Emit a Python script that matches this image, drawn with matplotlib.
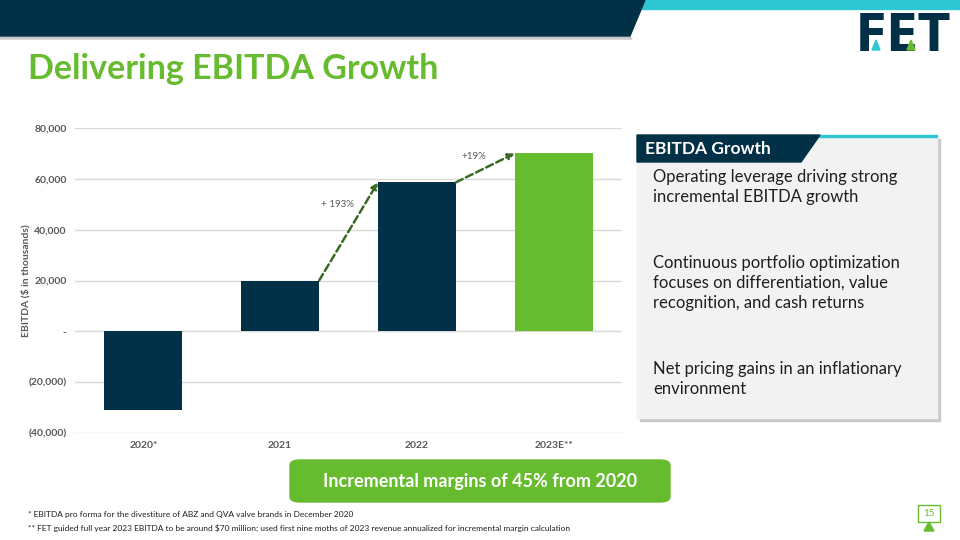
"""EBITDA growth slide: bar chart with growth arrows and a side panel."""

import matplotlib

matplotlib.use("Agg")
import matplotlib.pyplot as plt
from matplotlib.patches import FancyBboxPatch, Polygon, Rectangle
from matplotlib.ticker import FuncFormatter


years = ["2020*", "2021", "2022", "2023E**"]
ebitda = [-31000, 20000, 58600, 70000]
growth_labels = ["+ 193%", "+19%"]
y_ticks = [-40000, -20000, 0, 20000, 40000, 60000, 80000]
bullets = [
    "Operating leverage driving strong\nincremental EBITDA growth",
    "Continuous portfolio optimization\nfocuses on differentiation, value\nrecognition, and cash returns",
    "Net pricing gains in an inflationary\nenvironment",
]
footnotes = [
    "* EBITDA pro forma for the divestiture of ABZ and QVA valve brands in December 2020",
    "** FET guided full year 2023 EBITDA to be around $70 million; used first nine moths of 2023 "
    "revenue annualized for incremental margin calculation",
]

NAVY = "#023047"
GREEN = "#67bb2e"
CYAN = "#2ec8d4"
ARROW = "#3a6b22"
TICK = "#595959"

plt.rcParams["font.family"] = ["Lato", "DejaVu Sans"]


def money(value, _pos):
    if value == 0:
        return "-"
    if value < 0:
        return f"({abs(value):,.0f})"
    return f"{value:,.0f}"


fig = plt.figure(figsize=(9.6, 5.4), dpi=100)
W, H = 960, 540


def fx(px):
    return px / W


def fy(py):
    return 1 - py / H


# header band
fig.patches.append(Polygon([(fx(640), fy(0)), (fx(960), fy(0)), (fx(960), fy(9)), (fx(637), fy(9))],
                           closed=True, transform=fig.transFigure, color=CYAN, zorder=1))
fig.patches.append(Polygon([(0, fy(37)), (fx(630), fy(37)), (fx(632), fy(39)), (0, fy(39))],
                           closed=True, transform=fig.transFigure, color="#c8c8c8", zorder=1))
fig.patches.append(Polygon([(0, 1), (fx(645), 1), (fx(630), fy(36)), (0, fy(36))],
                           closed=True, transform=fig.transFigure, color=NAVY, zorder=2))

# logo
fig.text(fx(903), fy(37), "FET", fontsize=37, fontweight="black", color=NAVY,
         ha="center", va="center", family=["DejaVu Sans"], stretch="condensed")
fig.patches.append(Polygon([(fx(872), fy(50)), (fx(880), fy(50)), (fx(876), fy(40))],
                           closed=True, transform=fig.transFigure, color=CYAN, zorder=5))
fig.patches.append(Polygon([(fx(907), fy(50)), (fx(915), fy(50)), (fx(911), fy(40))],
                           closed=True, transform=fig.transFigure, color=GREEN, zorder=5))

fig.text(fx(28), fy(69), "Delivering EBITDA Growth", fontsize=24.5, fontweight="bold",
         color=GREEN, ha="left", va="center")

# chart
ax = fig.add_axes([fx(75), fy(433), fx(622) - fx(75), fy(128) - fy(433)])
x = list(range(len(years)))
colors = [NAVY, NAVY, NAVY, GREEN]
bar_w = 0.57
ax.bar(x, ebitda, width=bar_w, color=colors, zorder=3)
ax.set_xlim(-0.5, len(years) - 0.5)
ax.set_ylim(-40000, 80000)
ax.set_yticks(y_ticks)
ax.yaxis.set_major_formatter(FuncFormatter(money))
ax.set_xticks(x)
ax.set_xticklabels(years)
ax.grid(axis="y", color="#d9d9d9", linewidth=1, zorder=0)
for s in ax.spines.values():
    s.set_visible(False)
ax.tick_params(length=0, labelsize=7.5, labelcolor=TICK, pad=6)
for lab in ax.get_xticklabels() + ax.get_yticklabels():
    lab.set_fontweight("bold")
ax.set_ylabel("EBITDA ($ in thousands)", fontsize=7.5, color=TICK, fontweight="bold")
ax.yaxis.set_label_coords(-0.082, 0.5)

label_pos = [(1.42, 50000), (2.42, 68700)]
for i, text in enumerate(growth_labels):
    start = (x[i + 1] + bar_w / 2, ebitda[i + 1])
    end = (x[i + 2] - bar_w / 2, ebitda[i + 2])
    ax.annotate("", xy=end, xytext=start,
                arrowprops=dict(arrowstyle="-|>", color=ARROW, lw=1.8, linestyle=(0, (3, 1.5)),
                                mutation_scale=9, shrinkA=0, shrinkB=0), zorder=4)
    ax.text(*label_pos[i], text, fontsize=7, color=TICK, ha="center", va="center")

# side panel
fig.patches.append(Rectangle((fx(640), fy(421)), fx(300), fy(139) - fy(421),
                             transform=fig.transFigure, color="#c9c9c9", zorder=1))
fig.patches.append(Rectangle((fx(637), fy(418)), fx(300), fy(136) - fy(418),
                             transform=fig.transFigure, color="#f2f2f2", zorder=2))
fig.patches.append(Rectangle((fx(818), fy(137)), fx(119), fy(135) - fy(137),
                             transform=fig.transFigure, color=CYAN, zorder=3))
fig.patches.append(Polygon([(fx(637), fy(135)), (fx(820), fy(135)), (fx(801), fy(162)), (fx(637), fy(162))],
                           closed=True, transform=fig.transFigure, color=NAVY, zorder=3))
fig.text(fx(645), fy(148.5), "EBITDA Growth", fontsize=12.5, fontweight="bold", color="white",
         ha="left", va="center", zorder=4)
for py, text in zip([169, 255, 361], bullets):
    fig.text(fx(653), fy(py), text, fontsize=12, color="#1f1f1f", ha="left", va="top",
             linespacing=1.3, zorder=4)

# callout
fig.patches.append(FancyBboxPatch((fx(290), fy(502)), fx(380), fy(460) - fy(502),
                                  boxstyle="round,pad=0,rounding_size=0.01",
                                  transform=fig.transFigure, color=GREEN, zorder=2))
fig.text(fx(480), fy(481), "Incremental margins of 45% from 2020", fontsize=13, fontweight="bold",
         color="white", ha="center", va="center", zorder=3)

for py, text in zip([515, 528], footnotes):
    fig.text(fx(28), fy(py), text, fontsize=6, color="#1f1f1f", ha="left", va="center")

# page number
fig.patches.append(Rectangle((fx(918), fy(522)), fx(22), fy(505) - fy(522), transform=fig.transFigure,
                             facecolor="white", edgecolor=GREEN, lw=1, zorder=3))
fig.text(fx(929), fy(513.5), "15", fontsize=7, color=GREEN, ha="center", va="center", zorder=4)
fig.patches.append(Polygon([(fx(924), fy(531)), (fx(934), fy(531)), (fx(929), fy(522))],
                           closed=True, transform=fig.transFigure, color=GREEN, zorder=4))

fig.savefig("out.png", dpi=100)
